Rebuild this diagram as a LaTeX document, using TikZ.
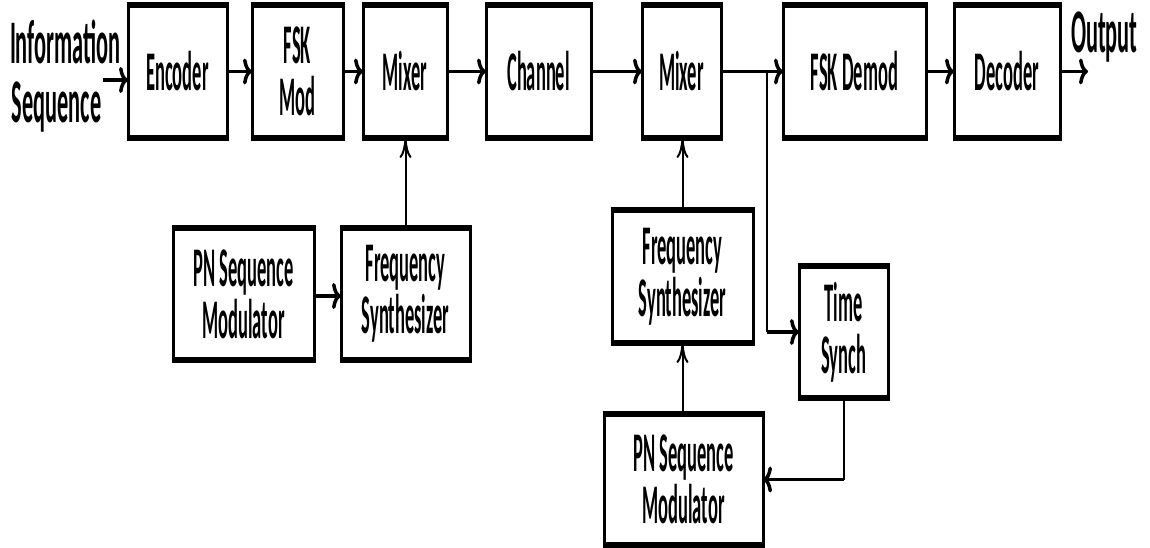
\documentclass[tikz,border=0pt]{standalone}
\usepackage{fontspec}
\newfontfamily\blkfont{Carlito}[FakeStretch=0.33]
\newfontfamily\tagfont{Carlito}[FakeStretch=0.36]
\usetikzlibrary{arrows.meta}
\begin{document}
\begin{tikzpicture}[x=1pt,y=-1pt,
  blk/.style={draw, line width=3pt, outer sep=0pt, inner sep=0pt, align=center,
    font=\blkfont\bfseries\fontsize{56}{52}\selectfont},
  tag/.style={inner sep=0pt, outer sep=0pt, font=\tagfont\bfseries\fontsize{62}{62}\selectfont},
  harr/.style={line width=3.5pt, -{To[length=9pt,width=26pt]}},
  varr/.style={line width=2pt, -{To[length=20pt,width=12pt]}},
  vline/.style={line width=2pt},
  edge/.style={line width=5.5pt}]
\useasboundingbox (0,0) rectangle (1150,548);

% transmitter chain
\node[blk, minimum width=99pt,  minimum height=133pt] (enc)  at (177.5,71.5) {Encoder};
\node[blk, minimum width=91pt,  minimum height=133pt] (fsk)  at (297.5,71.5) {FSK\\Mod};
\node[blk, minimum width=84pt,  minimum height=133pt] (mix1) at (405,71.5)   {Mixer};
\node[blk, minimum width=105pt, minimum height=133pt] (chan) at (538.5,71.5) {Channel};
\node[blk, minimum width=79pt,  minimum height=133pt] (mix2) at (681.5,71.5) {Mixer};
\node[blk, minimum width=143pt, minimum height=133pt] (dem)  at (854.5,71.5) {FSK Demod};
\node[blk, minimum width=106pt, minimum height=133pt] (dec)  at (1007,71.5)  {Decoder};

% hopping sources
\node[blk, minimum width=141pt, minimum height=132pt] (pn1) at (243.5,294)   {PN Sequence\\Modulator};
\node[blk, minimum width=129pt, minimum height=132pt] (fs1) at (405.5,294)   {Frequency\\Synthesizer};
\node[blk, minimum width=141pt, minimum height=133pt] (fs2) at (682.5,276.5) {Frequency\\Synthesizer};
\node[blk, minimum width=89pt,  minimum height=132pt] (ts)  at (843.5,332)   {Time\\Synch};
\node[blk, minimum width=159pt, minimum height=131pt] (pn2) at (683.5,479.5) {PN Sequence\\Modulator};

% heavier top and bottom edges
\foreach \b in {enc,fsk,mix1,chan,mix2,dem,dec,pn1,fs1,fs2,ts,pn2} {
  \draw[edge] ([xshift=-1.5pt]\b.north west) -- ([xshift=1.5pt]\b.north east);
  \draw[edge] ([xshift=-1.5pt]\b.south west) -- ([xshift=1.5pt]\b.south east);
}

% outer labels
\node[tag, anchor=base west] (info) at (10,64)   {Information};
\node[tag, anchor=base west] (seq)  at (12,123)  {Sequence};
\node[tag, anchor=base west] (outl) at (1071,53) {Output};

\coordinate (in)  at (103,80);
\coordinate (out) at (1088,71.5);
\coordinate (j)   at (767,71.5);

% main signal path
\draw[harr] (in) -- (in -| enc.west);
\draw[harr] (enc.east) -- (fsk.west);
\draw[harr] (fsk.east) -- (mix1.west);
\draw[harr] (mix1.east) -- (chan.west);
\draw[harr] (chan.east) -- (mix2.west);
\draw[harr] (mix2.east) -- (dem.west);
\draw[harr] (dem.east) -- (dec.west);
\draw[harr] (dec.east) -- (out);

% transmitter hopping
\draw[harr] (pn1.east |- 0,296) -- (fs1.west |- 0,296);
\draw[varr] (fs1.north) -- (fs1.north |- mix1.south);

% receiver hopping and synchronisation
\draw[varr] (fs2.north) -- (fs2.north |- mix2.south);
\draw[varr] (pn2.north -| fs2.south) -- (fs2.south);
\draw[vline] (j) -- (j |- ts.west);
\draw[harr] (j |- ts.west) -- (ts.west);
\draw[vline] (ts.south) -- (ts.south |- pn2.east);
\draw[harr] (ts.south |- pn2.east) -- (pn2.east);
\end{tikzpicture}
\end{document}
